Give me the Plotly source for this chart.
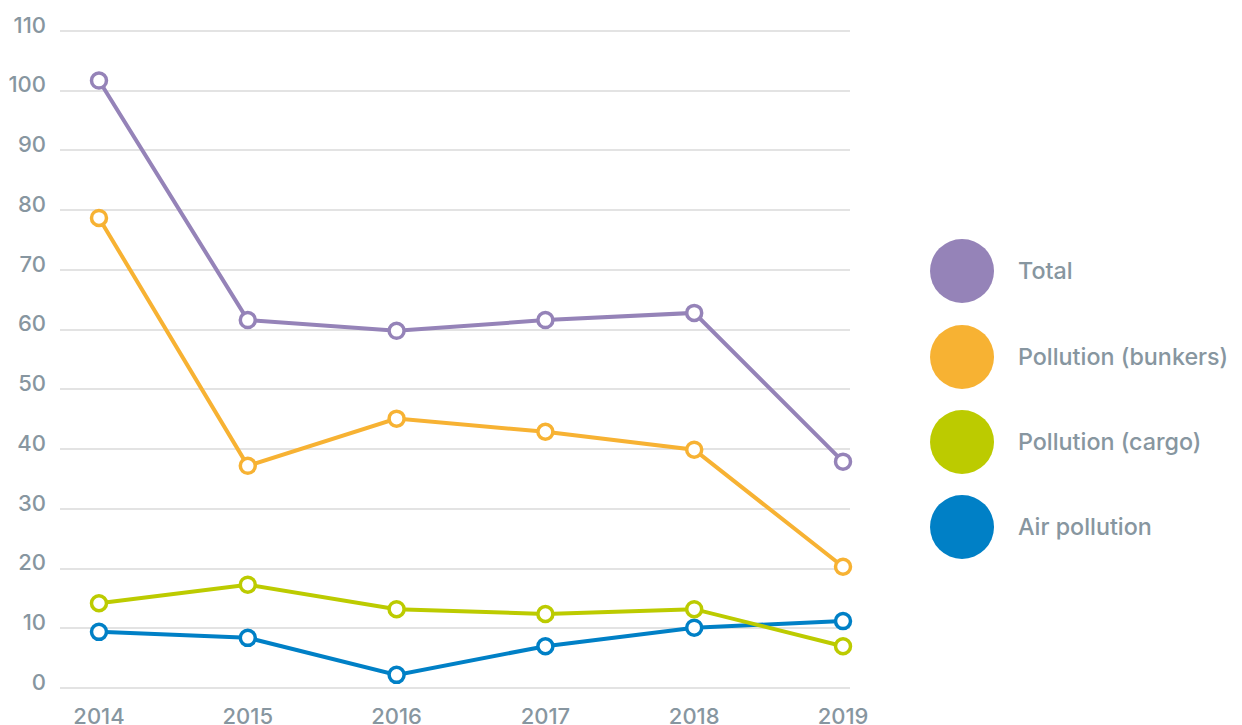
import plotly.graph_objects as go

years = [2014, 2015, 2016, 2017, 2018, 2019]
total = [101.7, 61.6, 59.8, 61.6, 62.8, 37.9]
bunkers = [78.7, 37.2, 45.1, 42.9, 39.9, 20.3]
cargo = [14.2, 17.3, 13.2, 12.4, 13.2, 7.0]
air = [9.4, 8.4, 2.2, 7.0, 10.1, 11.2]

series_names = ["Total", "Pollution (bunkers)", "Pollution (cargo)", "Air pollution"]
series_values = [total, bunkers, cargo, air]
colors = ["#9583b8", "#f7b233", "#bccb00", "#0080c6"]
y_ticks = [0, 10, 20, 30, 40, 50, 60, 70, 80, 90, 100, 110]

fig = go.Figure()
# draw order: air, cargo, bunkers, total
for i in [3, 2, 1, 0]:
    fig.add_trace(go.Scatter(
        x=years, y=series_values[i], name=series_names[i], mode="lines+markers",
        line=dict(color=colors[i], width=4),
        marker=dict(symbol="circle", size=15, color="white",
                    line=dict(color=colors[i], width=3.5)),
        cliponaxis=False, showlegend=False, hoverinfo="skip"))

font_family = "Inter, Lato, sans-serif"
label_color = "#8796a0"

# legend drawn as shapes + annotations
legend_y = [0.6335, 0.5038, 0.3756, 0.2474]
for i, name in enumerate(series_names):
    yc = legend_y[i]
    fig.add_shape(type="circle", xref="paper", yref="paper",
                  xsizemode="pixel", ysizemode="pixel",
                  xanchor=1.1418, yanchor=yc,
                  x0=-32, x1=32, y0=-32, y1=32,
                  fillcolor=colors[i], line=dict(width=0))
    fig.add_annotation(text=name, xref="paper", yref="paper",
                       x=1.2101, y=yc, xanchor="left", yanchor="middle",
                       showarrow=False,
                       font=dict(family=font_family, size=23.3, color=label_color, weight=500))

fig.update_layout(
    width=1242, height=725,
    margin=dict(l=52, r=400, t=20, b=42, autoexpand=False),
    paper_bgcolor="white", plot_bgcolor="white",
    showlegend=False,
    font=dict(family=font_family, size=22, color=label_color),
)
fig.update_xaxes(
    range=[2013.738, 2019.047], tickvals=years, ticktext=[str(y) for y in years],
    showgrid=False, zeroline=False, showline=False, ticks="", automargin=False,
    tickfont=dict(size=22, color=label_color, weight=500), ticklabelstandoff=10,
)
fig.update_yaxes(
    range=[-0.5, 110.5], tickvals=y_ticks, showgrid=True, gridcolor="#e3e3e3", gridwidth=2,
    zeroline=False, showline=False, ticks="", automargin=False,
    tickfont=dict(size=22, color=label_color, weight=500), ticklabelshift=-6, ticklabelstandoff=13,
)

fig.write_html("out.html")
